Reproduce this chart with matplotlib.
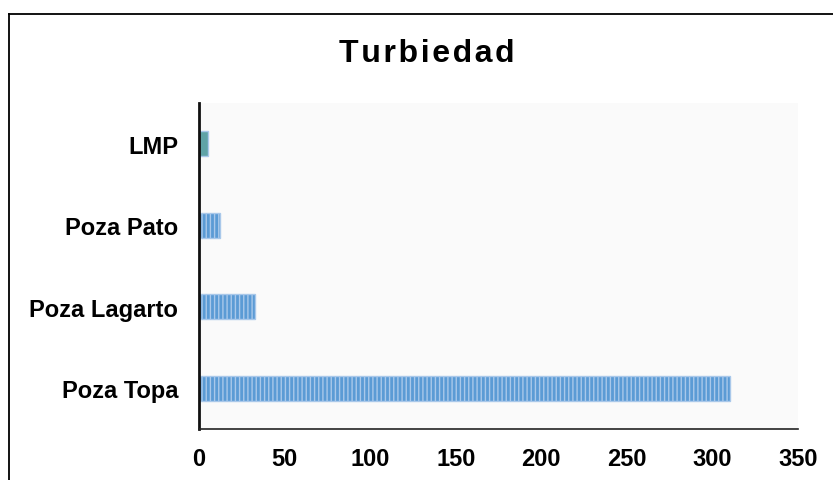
import matplotlib.pyplot as plt
from matplotlib.lines import Line2D

plt.rcParams['font.family'] = ['Liberation Sans', 'DejaVu Sans']

# DATA (bottom to top)
estaciones = ["Poza Topa", "Poza Lagarto", "Poza Pato", "LMP"]
turbiedad = [310, 33, 12, 5]
colores = ["#5b9bd5", "#5b9bd5", "#5b9bd5", "#5fa3a6"]
rayas = ["||||", "||||", "||||", ""]
xticks = [0, 50, 100, 150, 200, 250, 300, 350]

fig = plt.figure(figsize=(8.33, 4.81), dpi=100)
ax = fig.add_axes([199 / 833, 1 - 430 / 481, 599 / 833, 326 / 481])
ax.set_facecolor("#fafafa")

# bars
for i in range(len(estaciones)):
    ax.barh(
        i,
        turbiedad[i],
        height=0.31,
        color=colores[i],
        edgecolor="#a9c8ea",
        hatch=rayas[i],
        linewidth=1.0
    )

ax.set_xlim(0, 350)
ax.set_ylim(-0.5, 3.5)
ax.set_xticks(xticks)
ax.set_xticklabels([str(t) for t in xticks], fontsize=17, fontweight="bold")
ax.set_yticks(range(len(estaciones)))
ax.set_yticklabels(estaciones, fontsize=17, fontweight="bold")
ax.tick_params(axis="x", length=0, pad=13)
ax.tick_params(axis="y", length=0, pad=15)

ax.spines["top"].set_visible(False)
ax.spines["right"].set_visible(False)
ax.spines["left"].set_linewidth(2.0)
ax.spines["left"].set_color("#111111")
ax.spines["bottom"].set_linewidth(1.2)
ax.spines["bottom"].set_color("#222222")

fig.text(427 / 833, 1 - 54 / 481, "T u r b i e d a d".replace(" ", "\u200a"),
         ha="center", va="center", fontsize=23, fontweight="bold")

# chart frame (cut off at right and bottom)
fig.add_artist(Line2D([9 / 833, 1.0], [1 - 15 / 481, 1 - 15 / 481], color="black", lw=1.3))
fig.add_artist(Line2D([9 / 833, 9 / 833], [0.0, 1 - 15 / 481], color="black", lw=1.3))

fig.savefig("out.png", dpi=100)
